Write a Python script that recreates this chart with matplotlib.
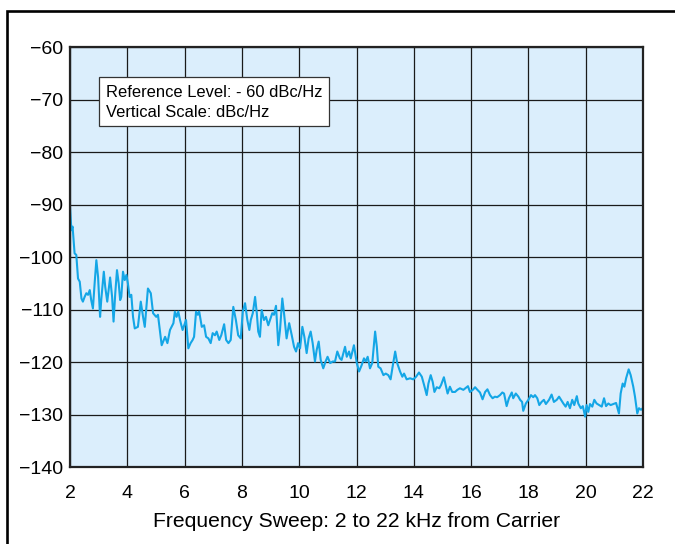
import matplotlib
matplotlib.use('Agg')
import matplotlib.pyplot as plt
from matplotlib.patches import Rectangle

plt.rcParams['font.family'] = ['Liberation Sans', 'DejaVu Sans']

# Phase noise trace (kHz from carrier, dBc/Hz)
freq_khz = [
    2.00, 2.05, 2.09, 2.16, 2.22, 2.28, 2.34, 2.40, 2.45, 2.51, 2.57, 2.63, 2.69, 2.74,
    2.80, 2.86, 2.92, 2.98, 3.05, 3.09, 3.18, 3.23, 3.30, 3.40, 3.47, 3.52, 3.58, 3.64,
    3.70, 3.75, 3.79, 3.85, 3.91, 3.97, 4.02, 4.08, 4.14, 4.20, 4.26, 4.37, 4.47, 4.55,
    4.61, 4.72, 4.82, 4.90, 5.01, 5.07, 5.20, 5.32, 5.40, 5.49, 5.61, 5.66, 5.72, 5.78,
    5.84, 5.93, 6.05, 6.13, 6.21, 6.28, 6.33, 6.40, 6.46, 6.51, 6.60, 6.68, 6.75, 6.83,
    6.91, 6.98, 7.06, 7.12, 7.21, 7.28, 7.38, 7.45, 7.53, 7.61, 7.70, 7.79, 7.87, 7.96,
    8.03, 8.11, 8.19, 8.26, 8.31, 8.38, 8.46, 8.52, 8.57, 8.63, 8.69, 8.77, 8.84, 8.92,
    8.98, 9.06, 9.12, 9.19, 9.27, 9.33, 9.41, 9.47, 9.56, 9.65, 9.74, 9.82, 9.89, 9.96,
    10.03, 10.11, 10.18, 10.26, 10.33, 10.40, 10.47, 10.55, 10.61, 10.68, 10.75, 10.84,
    10.92, 10.99, 11.08, 11.17, 11.25, 11.33, 11.42, 11.48, 11.60, 11.66, 11.74, 11.80,
    11.91, 12.01, 12.09, 12.18, 12.26, 12.32, 12.39, 12.47, 12.55, 12.65, 12.71, 12.76,
    12.84, 12.94, 13.02, 13.11, 13.19, 13.26, 13.35, 13.42, 13.52, 13.60, 13.66, 13.75,
    13.87, 13.98, 14.08, 14.18, 14.28, 14.36, 14.45, 14.51, 14.59, 14.66, 14.72, 14.80,
    14.89, 14.95, 15.05, 15.12, 15.18, 15.26, 15.34, 15.44, 15.52, 15.61, 15.73, 15.82,
    15.89, 15.96, 16.06, 16.14, 16.22, 16.31, 16.40, 16.49, 16.57, 16.66, 16.75, 16.83,
    16.91, 17.01, 17.09, 17.15, 17.24, 17.32, 17.42, 17.47, 17.56, 17.65, 17.71, 17.78,
    17.82, 17.91, 18.00, 18.09, 18.17, 18.23, 18.31, 18.38, 18.46, 18.54, 18.61, 18.72,
    18.81, 18.89, 18.99, 19.07, 19.14, 19.22, 19.30, 19.37, 19.45, 19.53, 19.60, 19.69,
    19.74, 19.83, 19.90, 19.98, 20.03, 20.09, 20.15, 20.23, 20.30, 20.38, 20.47, 20.56,
    20.64, 20.71, 20.79, 20.87, 20.96, 21.06, 21.16, 21.22, 21.29, 21.35, 21.41, 21.50,
    21.57, 21.66, 21.72, 21.80, 21.86, 21.93, 21.99,
]
level_dbc = [
    -90.5, -94.9, -94.2, -99.3, -99.6, -104.1, -104.7, -107.9, -108.5, -107.6, -106.9,
    -107.2, -106.3, -108.2, -109.8, -105.0, -100.6, -103.8, -111.4, -108.2, -102.8,
    -105.7, -108.5, -103.9, -107.6, -112.3, -106.9, -102.5, -105.0, -108.2, -107.6,
    -102.8, -104.4, -103.4, -105.0, -107.6, -107.2, -111.4, -113.6, -113.3, -108.5,
    -111.4, -113.3, -106.0, -106.9, -110.7, -111.4, -111.0, -116.8, -115.2, -116.4,
    -113.9, -112.6, -110.4, -111.4, -110.4, -112.0, -113.9, -112.0, -117.4, -116.4,
    -115.8, -115.2, -110.4, -111.0, -110.4, -113.3, -113.0, -115.2, -115.5, -116.4,
    -114.5, -114.9, -114.2, -115.8, -114.9, -112.8, -115.8, -116.4, -115.8, -109.5,
    -112.0, -114.9, -115.5, -110.4, -108.8, -112.0, -113.9, -112.0, -110.7, -107.6,
    -110.7, -114.2, -115.2, -110.1, -112.0, -111.4, -113.0, -112.0, -110.7, -111.0,
    -109.3, -116.8, -113.9, -107.9, -110.7, -115.5, -112.6, -114.9, -117.1, -118.0,
    -116.4, -117.4, -113.3, -115.2, -118.3, -115.5, -114.2, -116.4, -119.9, -117.7,
    -116.1, -119.6, -121.2, -119.9, -119.0, -120.2, -119.9, -119.9, -118.0, -119.3,
    -119.6, -117.1, -119.0, -118.0, -119.3, -116.8, -120.2, -121.8, -120.6, -119.3,
    -119.9, -119.0, -121.2, -120.2, -114.2, -117.1, -120.9, -121.2, -122.5, -122.2,
    -122.5, -123.3, -120.9, -118.0, -120.2, -121.8, -122.8, -122.2, -123.3, -123.1,
    -123.3, -122.8, -122.0, -122.8, -124.4, -126.3, -124.1, -122.5, -123.8, -125.7,
    -124.8, -125.0, -124.4, -122.9, -124.6, -126.0, -124.7, -125.7, -125.7, -125.3,
    -125.0, -125.3, -124.9, -124.6, -125.7, -125.3, -124.8, -125.3, -125.8, -127.1,
    -125.7, -125.2, -126.3, -126.9, -126.6, -126.7, -126.3, -125.8, -126.0, -128.4,
    -126.9, -125.8, -126.9, -126.0, -126.6, -127.2, -127.6, -129.3, -127.9, -127.2,
    -126.3, -126.7, -126.3, -126.9, -128.2, -127.6, -127.2, -128.0, -127.2, -126.2,
    -127.6, -127.2, -126.6, -127.2, -127.9, -128.5, -127.6, -128.8, -127.2, -128.2,
    -126.5, -127.9, -128.8, -128.4, -130.4, -128.2, -129.5, -128.0, -128.5, -127.2,
    -127.9, -128.2, -128.5, -126.9, -128.4, -127.9, -128.2, -128.0, -127.8, -129.8,
    -126.0, -124.1, -124.7, -123.1, -121.4, -122.5, -124.7, -126.6, -129.8, -128.8,
    -129.1, -128.8,
]

x_ticks = [2, 4, 6, 8, 10, 12, 14, 16, 18, 20, 22]
y_ticks = [-60, -70, -80, -90, -100, -110, -120, -130, -140]
note_lines = ["Reference Level: - 60 dBc/Hz", "Vertical Scale: dBc/Hz"]

fig = plt.figure(figsize=(6.75, 5.44), dpi=100)
ax = fig.add_axes([0.1037, 0.1415, 0.8489, 0.7721])

# outer frame, open to the right and bottom
fig.patches.append(Rectangle((0.0104, -0.1), 1.2, 1.0798, transform=fig.transFigure,
                             fill=False, edgecolor='black', linewidth=1.9))

ax.set_facecolor('#dbeefc')
ax.plot(freq_khz, level_dbc, color='#14a6e6', linewidth=1.5)

ax.set_xlim(2, 22)
ax.set_ylim(-140, -60)
ax.set_xticks(x_ticks)
ax.set_yticks(y_ticks)
ax.grid(True, color='#1a1a1a', linewidth=0.9)
ax.set_axisbelow(True)
ax.tick_params(axis='both', length=0, labelsize=14)
ax.tick_params(axis='x', pad=13)
ax.tick_params(axis='y', pad=5)
for s in ax.spines.values():
    s.set_linewidth(1.6)
    s.set_color('#222222')

ax.set_xlabel('Frequency Sweep: 2 to 22 kHz from Carrier', fontsize=15.2, labelpad=7)

# note box (axes fractions)
ax.add_patch(Rectangle((0.0511, 0.8119), 0.4014, 0.1160, transform=ax.transAxes,
                       facecolor='white', edgecolor='#333333', linewidth=0.9, zorder=4))
ax.text(0.0628, 0.8802, note_lines[0], transform=ax.transAxes, fontsize=11.9,
        va='baseline', ha='left', zorder=5)
ax.text(0.0628, 0.8340, note_lines[1], transform=ax.transAxes, fontsize=11.9,
        va='baseline', ha='left', zorder=5)

plt.savefig('out.png', dpi=100)
